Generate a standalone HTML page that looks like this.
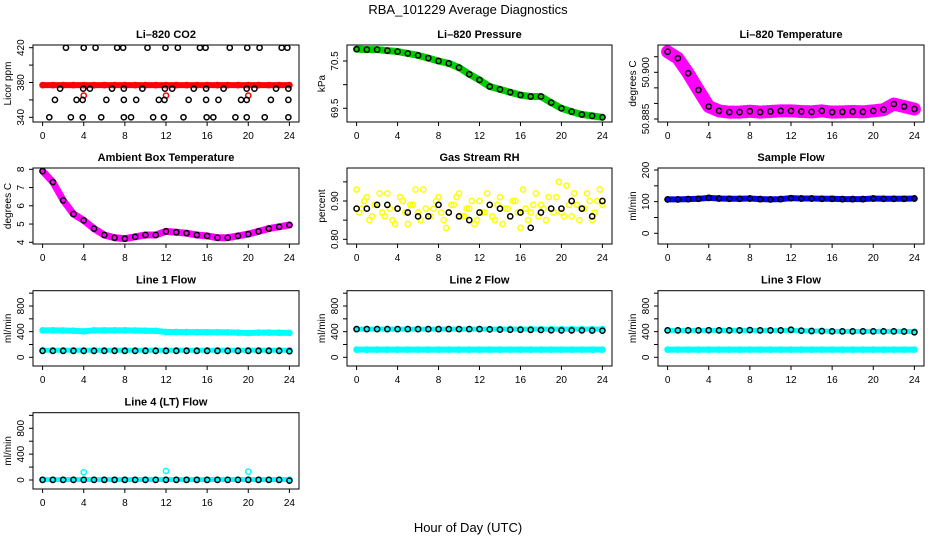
<!DOCTYPE html>
<html><head><meta charset="utf-8"><style>
html,body{margin:0;padding:0;background:#fff;}
svg{display:block;font-family:"Liberation Sans",sans-serif;}
</style></head><body>
<svg id="c" width="936" height="540" viewBox="0 0 936 540" xmlns="http://www.w3.org/2000/svg">
<rect width="936" height="540" fill="#fff"/>
<text x="468" y="14" font-size="13" text-anchor="middle">RBA_101229  Average Diagnostics</text>
<text x="468" y="532" font-size="13" text-anchor="middle">Hour of Day (UTC)</text>
</svg>
<script>
// ---- data ----
const xTicks = [0,4,8,12,16,20,24];
const hourly = [0,1,2,3,4,5,6,7,8,9,10,11,12,13,14,15,16,17,18,19,20,21,22,23,24];
// CO2
const co2Band = [377,377,377,377,377,377,377,377,377,377,377,377,377,377,377,377,377,377,377,377,377,377,377,377,377];
const co2OutHours = [4,12,20];
const co2OutVals = [365,365,365];
const co2BlkHours = [2.27,4.0,5.15,7.25,7.83,10.2,11.95,13.15,15.3,15.85,18.2,19.9,21.1,23.25,23.8,
 1.7,3.95,4.6,6.75,7.9,9.7,11.9,12.6,14.7,15.9,17.6,19.85,20.6,22.7,23.9,
 1.2,3.3,3.9,6.2,7.9,9.1,11.3,11.85,14.2,15.9,17.1,19.3,19.85,22.2,23.9,
 0.65,2.75,3.9,5.7,7.9,8.6,10.75,11.8,13.7,15.95,16.6,18.75,19.85,21.6,23.9];
const co2BlkVals = [420,420,420,420,420,420,420,420,420,420,420,420,420,420,420,
 373,373,373,373,373,373,373,373,373,373,373,373,373,373,373,
 360,360,360,360,360,360,360,360,360,360,360,360,360,360,360,
 340,340,340,340,340,340,340,340,340,340,340,340,340,340,340];
// Pressure
const presVals = [70.75,70.74,70.74,70.72,70.70,70.66,70.62,70.56,70.50,70.45,70.36,70.22,70.10,69.96,69.90,69.84,69.78,69.75,69.75,69.62,69.50,69.43,69.37,69.34,69.31];
// Li-820 temperature
const tempVals = [50.9066,50.9045,50.8997,50.8943,50.889,50.8876,50.8872,50.8872,50.8875,50.8872,50.8874,50.8876,50.8876,50.8874,50.8873,50.8876,50.8872,50.8873,50.8874,50.8873,50.8876,50.888,50.8898,50.889,50.8882];
// Ambient box temperature
const ambVals = [7.9,7.3,6.3,5.55,5.2,4.75,4.4,4.25,4.2,4.3,4.4,4.4,4.6,4.55,4.5,4.4,4.35,4.25,4.25,4.35,4.45,4.6,4.75,4.85,4.95];
// Gas stream RH
const rhYellowA = [0.93,0.88,0.91,0.86,0.89,0.87,0.92,0.85,0.88,0.90,0.84,0.89,0.87,0.93,0.86,0.88,0.91,0.85,0.87,0.89,0.92,0.86,0.88,0.84,0.90,0.87,0.89,0.85,0.91,0.88,0.86,0.90,0.83,0.88,0.87,0.92,0.89,0.85,0.88,0.91,0.87,0.94,0.86,0.89,0.88,0.92,0.85,0.90,0.89];
const rhYellowB = [0.87,0.90,0.85,0.89,0.92,0.86,0.88,0.84,0.91,0.87,0.89,0.93,0.85,0.88,0.86,0.90,0.87,0.83,0.89,0.91,0.86,0.88,0.90,0.85,0.87,0.92,0.86,0.89,0.84,0.88,0.90,0.87,0.93,0.85,0.89,0.86,0.88,0.91,0.87,0.95,0.86,0.89,0.92,0.85,0.88,0.90,0.87,0.93];
const rhBlack = [0.88,0.88,0.89,0.89,0.88,0.87,0.86,0.86,0.89,0.87,0.86,0.85,0.87,0.89,0.88,0.86,0.87,0.83,0.87,0.88,0.88,0.90,0.88,0.86,0.90];
// Flows
const sampleVals = [107,107,108,109,112,110,109,109,110,108,107,108,111,110,110,109,109,108,108,108,110,109,109,109,110];
const l1Upper = [420,420,418,415,405,420,420,420,420,418,415,412,395,395,393,392,390,390,388,385,378,385,385,383,380];
const l1Lower = [110,110,110,110,110,110,110,110,110,110,110,110,110,110,110,110,110,110,110,110,110,110,110,110,110];
const l1Black = [100,100,100,100,100,100,100,100,100,100,100,100,100,100,100,100,100,100,100,100,100,100,100,100,95];
const l2Upper = [440,440,440,440,440,440,440,440,440,440,440,440,440,440,440,440,440,440,440,440,440,440,440,440,440];
const l2Lower = [120,120,120,120,120,120,120,120,120,120,120,120,120,120,120,120,120,120,120,120,120,120,120,120,120];
const l2Black = [440,440,440,440,440,440,440,440,440,440,440,440,440,435,432,430,430,428,425,422,420,420,420,418,415];
const l3Upper = [420,420,420,420,420,420,420,420,420,420,420,420,420,415,410,410,405,405,405,405,405,405,405,405,400];
const l3Lower = [120,120,120,120,120,120,120,120,120,120,120,120,120,120,120,120,120,120,120,120,120,120,120,120,120];
const l3Black = [420,420,420,420,422,420,420,420,425,420,420,420,430,415,410,408,405,405,404,404,405,405,405,402,390];
const l4Cyan = [5,5,5,5,5,5,5,5,5,5,5,5,5,5,5,5,5,5,5,5,5,5,5,5,5];
const l4OutHours = [4,12,20];
const l4OutVals = [120,140,130];
const l4Black = [2,2,2,2,2,2,2,2,2,2,2,2,2,2,2,2,2,2,2,2,2,2,2,2,-10];

// ---- drawing ----
const svg = document.getElementById('c');
const NS = 'http://www.w3.org/2000/svg';
function mk(tag, attrs, parent){const e=document.createElementNS(NS,tag);for(const k in attrs)e.setAttribute(k,attrs[k]);(parent||svg).appendChild(e);return e;}
const cols=[[33,299],[347,612],[658,924]];
const rows=[[45,122],[168,244],[290.7,366],[412.7,489]];
function panel(p){
  const [x0,x1]=cols[p.col],[y0,y1]=rows[p.row];
  const g=mk('g',{});
  
  
  const xs=h=>x0+9.6+h*(x1-x0-19.2)/24;
  const ys=v=>p.a1[1]+(v-p.a1[0])*(p.a2[1]-p.a1[1])/(p.a2[0]-p.a1[0]);
  const cg=mk('g',{'clip-path':'url(#cl'+p.name+')'},g);
  const cp=mk('clipPath',{id:'cl'+p.name},g);mk('rect',{x:x0,y:y0,width:x1-x0,height:y1-y0},cp);
  p.series.forEach(s=>{
    const sg=mk('g',{},cg);
    
    
    if(s.band){mk('polyline',{points:s.h.map((h,i)=>xs(h)+','+ys(s.v[i])).join(' '),fill:'none',stroke:s.c,'stroke-width':s.band,'stroke-linejoin':'round','stroke-linecap':'round'},sg);}
    s.v.forEach((v,i)=>{mk('circle',{cx:xs(s.h[i]),cy:ys(v),r:2.6,fill:'none',stroke:s.c,'stroke-width':1.5},sg);});
  });
  mk('rect',{x:x0,y:y0,width:x1-x0,height:y1-y0,fill:'none',stroke:'#000','stroke-width':1},g);
  const t=mk('text',{x:(x0+x1)/2,y:y0-7,'font-size':11,'font-weight':'bold','text-anchor':'middle'},g);t.textContent=p.title;
  
  
  xTicks.forEach(h=>{mk('line',{x1:xs(h),x2:xs(h),y1:y1,y2:y1+4,stroke:'#000'},g);
    const l=mk('text',{x:xs(h),y:y1+17,'font-size':10,'text-anchor':'middle'},g);l.textContent=h;});
  p.yt.forEach(v=>{mk('line',{x1:x0,x2:x0-4,y1:ys(v),y2:ys(v),stroke:'#000'},g);});
  p.yl.forEach(v=>{const l=mk('text',{x:0,y:0,'font-size':10,'text-anchor':'middle',transform:`translate(${x0-9},${ys(Number(v))}) rotate(-90)`},g);l.textContent=v;});
  const yl=mk('text',{'font-size':10,'text-anchor':'middle',transform:`translate(${x0-22},${(y0+y1)/2}) rotate(-90)`},g);yl.textContent=p.ylab;
  
  
}
const half=rhYellowA.map((_,i)=>i*0.5), halfB=rhYellowB.map((_,i)=>i*0.5+0.25);
const flowT=[0,200,400,600,800,1000], flowL=['0','400','800'];
const P=[
 {name:'co2-panel',title:'Li\u2013820 CO2',col:0,row:0,a1:[420,47.7],a2:[340,117.3],yt:[340,360,380,400,420],yl:['340','380','420'],ylab:'Licor ppm',
  series:[{name:'co2-red-band',h:hourly,v:co2Band,c:'#f00',band:6},{name:'co2-red-outliers',h:co2OutHours,v:co2OutVals,c:'#f00'},{name:'co2-black-points',h:co2BlkHours,v:co2BlkVals,c:'#000'}]},
 {name:'pressure-panel',title:'Li\u2013820 Pressure',col:1,row:0,a1:[70.5,61],a2:[69.5,108.3],yt:[69.5,70.0,70.5],yl:['69.5','70.5'],ylab:'kPa',
  series:[{name:'pressure-green-band',h:hourly,v:presVals,c:'#0c0',band:7},{name:'pressure-black-points',h:hourly,v:presVals,c:'#000'}]},
 {name:'temperature-panel',title:'Li\u2013820 Temperature',col:2,row:0,a1:[50.900,72.3],a2:[50.885,119],yt:[50.885,50.890,50.895,50.900,50.905],yl:['50.885','50.900'],ylab:'degrees C',
  series:[{name:'temp-magenta-band',h:hourly,v:tempVals,c:'#f0f',band:13},{name:'temp-black-points',h:hourly,v:tempVals,c:'#000'}]},
 {name:'ambient-panel',title:'Ambient Box Temperature',col:0,row:1,a1:[8,169.3],a2:[4,242.3],yt:[4,5,6,7,8],yl:['4','5','6','7','8'],ylab:'degrees C',
  series:[{name:'ambient-magenta-band',h:hourly,v:ambVals,c:'#f0f',band:7},{name:'ambient-black-points',h:hourly,v:ambVals,c:'#000'}]},
 {name:'rh-panel',title:'Gas Stream RH',col:1,row:1,a1:[0.90,201],a2:[0.80,239.3],yt:[0.80,0.85,0.90,0.95],yl:['0.80','0.90'],ylab:'percent',
  series:[{name:'rh-yellow-a',h:half,v:rhYellowA,c:'#ff0'},{name:'rh-yellow-b',h:halfB,v:rhYellowB,c:'#ff0'},{name:'rh-black-points',h:hourly,v:rhBlack,c:'#000'}]},
 {name:'sample-flow-panel',title:'Sample Flow',col:2,row:1,a1:[200,170],a2:[0,233.3],yt:[0,50,100,150,200],yl:['0','100','200'],ylab:'ml/min',
  series:[{name:'sample-blue-band',h:hourly,v:sampleVals,c:'#00f',band:6},{name:'sample-black-points',h:hourly,v:sampleVals,c:'#000'}]},
 {name:'line1-panel',title:'Line 1 Flow',col:0,row:2,a1:[0,357.3],a2:[800,306],yt:flowT,yl:flowL,ylab:'ml/min',
  series:[{name:'line1-cyan-upper',h:hourly,v:l1Upper,c:'#0ff',band:6},{name:'line1-cyan-lower',h:hourly,v:l1Lower,c:'#0ff',band:5},{name:'line1-black',h:hourly,v:l1Black,c:'#000'}]},
 {name:'line2-panel',title:'Line 2 Flow',col:1,row:2,a1:[0,357.3],a2:[800,306],yt:flowT,yl:flowL,ylab:'ml/min',
  series:[{name:'line2-cyan-upper',h:hourly,v:l2Upper,c:'#0ff',band:5},{name:'line2-cyan-lower',h:hourly,v:l2Lower,c:'#0ff',band:6},{name:'line2-black',h:hourly,v:l2Black,c:'#000'}]},
 {name:'line3-panel',title:'Line 3 Flow',col:2,row:2,a1:[0,357.3],a2:[800,306],yt:flowT,yl:flowL,ylab:'ml/min',
  series:[{name:'line3-cyan-upper',h:hourly,v:l3Upper,c:'#0ff',band:5},{name:'line3-cyan-lower',h:hourly,v:l3Lower,c:'#0ff',band:6},{name:'line3-black',h:hourly,v:l3Black,c:'#000'}]},
 {name:'line4-panel',title:'Line 4 (LT) Flow',col:0,row:3,a1:[0,480],a2:[800,428.3],yt:flowT,yl:flowL,ylab:'ml/min',
  series:[{name:'line4-cyan',h:hourly,v:l4Cyan,c:'#0ff',band:5},{name:'line4-cyan-outliers',h:l4OutHours,v:l4OutVals,c:'#0ff'},{name:'line4-black',h:hourly,v:l4Black,c:'#000'}]}
];
P.forEach(panel);
</script>
</body></html>
